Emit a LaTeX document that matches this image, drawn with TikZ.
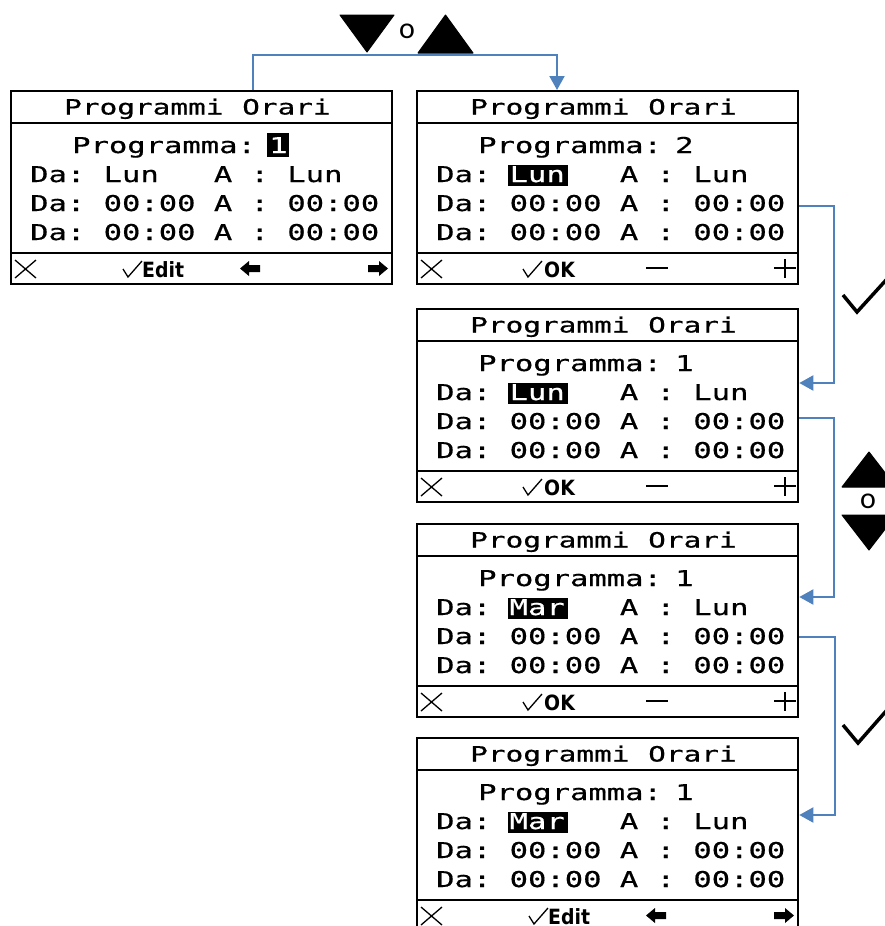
\documentclass[tikz,border=0pt]{standalone}
\usepackage{fontspec}
\usetikzlibrary{arrows.meta}
\newfontfamily\lcdfont[FakeStretch=1.4,FakeBold=0.6]{DejaVu Sans Mono}
\newfontfamily\barfont[FakeStretch=0.9]{DejaVu Sans}
\newfontfamily\labfont{Carlito}
\definecolor{connblue}{RGB}{79,129,189}
\newcommand\colx[2]{#1+20+#2*18.37}

\tikzset{
  lcd/.style={font=\lcdfont\fontsize{21.8}{22}\selectfont, inner sep=0pt, anchor=base west},
  lcdtitle/.style={font=\lcdfont\fontsize{21}{22}\selectfont, inner sep=0pt, anchor=base west},
  frame/.style={draw=black, line width=2.3pt, inner sep=0pt, minimum width=381pt, minimum height=193pt, anchor=north west},
  sepline/.style={draw=black, line width=2.2pt},
  bartxt/.style={font=\barfont\bfseries\fontsize{21}{22}\selectfont, inner sep=0pt, anchor=base west},
  conn/.style={draw=connblue, line width=2pt, -{Triangle[length=14pt,width=15pt]}},
  keytri/.style={fill=black, draw=black, line width=1pt, line join=round},
  chk/.style={draw=black, line width=3.5pt},
  thinline/.style={draw=black, line width=1.3pt},
  barline/.style={draw=black, line width=2.3pt},
  keylab/.style={font=\labfont\fontsize{30}{30}\selectfont, inner sep=0pt},
}

% frame, title, fixed rows
\newcommand\screenbase[3]{%
  \node[frame] (#1) at (#2,#3) {};
  \draw[sepline] ([yshift=-33pt]#1.north west) -- ([yshift=-33pt]#1.north east);
  \draw[sepline] ([yshift=-163pt]#1.north west) -- ([yshift=-163pt]#1.north east);
  \node[lcdtitle] (#1-ta) at ({#2+54},{#3+24.5}) {Programmi};
  \node[lcdtitle] (#1-tb) at ({#2+54+10*17.8},{#3+24.5}) {Orari};
  \node[lcd] (#1-p) at ({#2+62},{#3+63}) {Programma:};
  \node[lcd] (#1-r1-a) at ({\colx{#2}{0}},{#3+92}) {Da:};
  \node[lcd] (#1-r1-c) at ({\colx{#2}{10}},{#3+92}) {A};
  \node[lcd] (#1-r1-d) at ({\colx{#2}{12}},{#3+92}) {:};
  \node[lcd] (#1-r1-e) at ({\colx{#2}{14}},{#3+92}) {Lun};
  \foreach \r/\b in {2/121,3/150}{
    \node[lcd] (#1-r\r-a) at ({\colx{#2}{0}},{#3+\b}) {Da:};
    \node[lcd] (#1-r\r-b) at ({\colx{#2}{4}},{#3+\b}) {00:00};
    \node[lcd] (#1-r\r-c) at ({\colx{#2}{10}},{#3+\b}) {A};
    \node[lcd] (#1-r\r-d) at ({\colx{#2}{12}},{#3+\b}) {:};
    \node[lcd] (#1-r\r-e) at ({\colx{#2}{14}},{#3+\b}) {00:00};
  }
}
\newcommand\progval[4]{\node[lcd] (#1-pv) at ({#2+259},{#3+63}) {#4};}
\newcommand\proghl[4]{%
  \fill ({#2+257},{#3+43}) rectangle ({#2+279},{#3+67});
  \node[lcd,text=white] (#1-pv) at ({#2+259},{#3+63}) {#4};}
\newcommand\dayval[4]{\node[lcd] (#1-r1-b) at ({\colx{#2}{4}},{#3+92}) {#4};}
\newcommand\dayhl[4]{%
  \fill ({#2+92},{#3+75}) rectangle ({#2+152},{#3+96});
  \node[lcd,text=white] (#1-r1-b) at ({\colx{#2}{4}},{#3+92}) {#4};}
\newcommand\xmark[2]{%
  \draw[thinline] ({#1+5},{#2+170}) -- ({#1+26},{#2+188}) ({#1+5},{#2+188}) -- ({#1+26},{#2+170});}
\newcommand\surdmark[2]{% x = left, y = top of bar
  \draw[thinline, line join=miter] ({#1},{#2+179}) -- ({#1+5},{#2+187}) -- ({#1+19},{#2+171});}
\newcommand\larrow[2]{\fill ({#1-10},{#2}) -- ++(9,-7.5) -- ++(0,4) -- ++(11,0) -- ++(0,7) -- ++(-11,0) -- ++(0,4) -- cycle;}
\newcommand\rarrow[2]{\fill ({#1+10},{#2}) -- ++(-9,-7.5) -- ++(0,4) -- ++(-11,0) -- ++(0,7) -- ++(11,0) -- ++(0,4) -- cycle;}
\newcommand\baredit[3]{%
  \xmark{#2}{#3}
  \surdmark{#2+113}{#3}
  \node[bartxt] (#1-bt) at ({#2+132},{#3+187}) {Edit};
  \larrow{#2+240}{#3+178.5}
  \rarrow{#2+368}{#3+178.5}}
\newcommand\barok[3]{%
  \xmark{#2}{#3}
  \surdmark{#2+107}{#3}
  \node[bartxt] (#1-bt) at ({#2+128},{#3+187}) {OK};
  \draw[barline] ({#2+230},{#3+178}) -- ({#2+252},{#3+178});
  \draw[barline] ({#2+358},{#3+178}) -- ({#2+380},{#3+178}) ({#2+369},{#3+169}) -- ({#2+369},{#3+188});}

\begin{document}
\begin{tikzpicture}[x=1pt,y=-1pt]
\useasboundingbox[fill=white] (0,0) rectangle (884,926);

% screen 1
\screenbase{s1}{10}{90}
\proghl{s1}{10}{90}{1}
\dayval{s1}{10}{90}{Lun}
\baredit{s1}{10}{90}
% screen 2
\screenbase{s2}{416}{90}
\progval{s2}{416}{90}{2}
\dayhl{s2}{416}{90}{Lun}
\barok{s2}{416}{90}
% screen 3
\screenbase{s3}{416}{308}
\progval{s3}{416}{308}{1}
\dayhl{s3}{416}{308}{Lun}
\barok{s3}{416}{308}
% screen 4
\screenbase{s4}{416}{523}
\progval{s4}{416}{523}{1}
\dayhl{s4}{416}{523}{Mar}
\barok{s4}{416}{523}
% screen 5
\screenbase{s5}{416}{737}
\progval{s5}{416}{737}{1}
\dayhl{s5}{416}{737}{Mar}
\baredit{s5}{416}{737}

% connectors
\draw[conn] (s1.north -| 253,0) -- (253,55) -| (s2.north -| 557,0);
\draw[conn] (s2.east |- 0,206) -- (834,206) |- (s3.east |- 0,383);
\draw[conn] (s3.east |- 0,418) -- (834,418) |- (s4.east |- 0,597);
\draw[conn] (s4.east |- 0,637) -- (835,637) |- (s5.east |- 0,815);

% key symbols top
\fill[keytri] (340,15) -- (394,15) -- (367,52) -- cycle;
\node[keylab] (o1) at (407,31) {o};
\fill[keytri] (418,53) -- (473,53) -- (445.5,15) -- cycle;

% key symbols right
\draw[chk] (843,295) -- (857,312) -- (887,279);
\fill[keytri] (842,487) -- (896,487) -- (869,452) -- cycle;
\node[keylab] (o2) at (868,501) {o};
\fill[keytri] (842,515) -- (896,515) -- (869,550) -- cycle;
\draw[chk] (843,725) -- (858,743) -- (887,710);
\end{tikzpicture}
\end{document}
